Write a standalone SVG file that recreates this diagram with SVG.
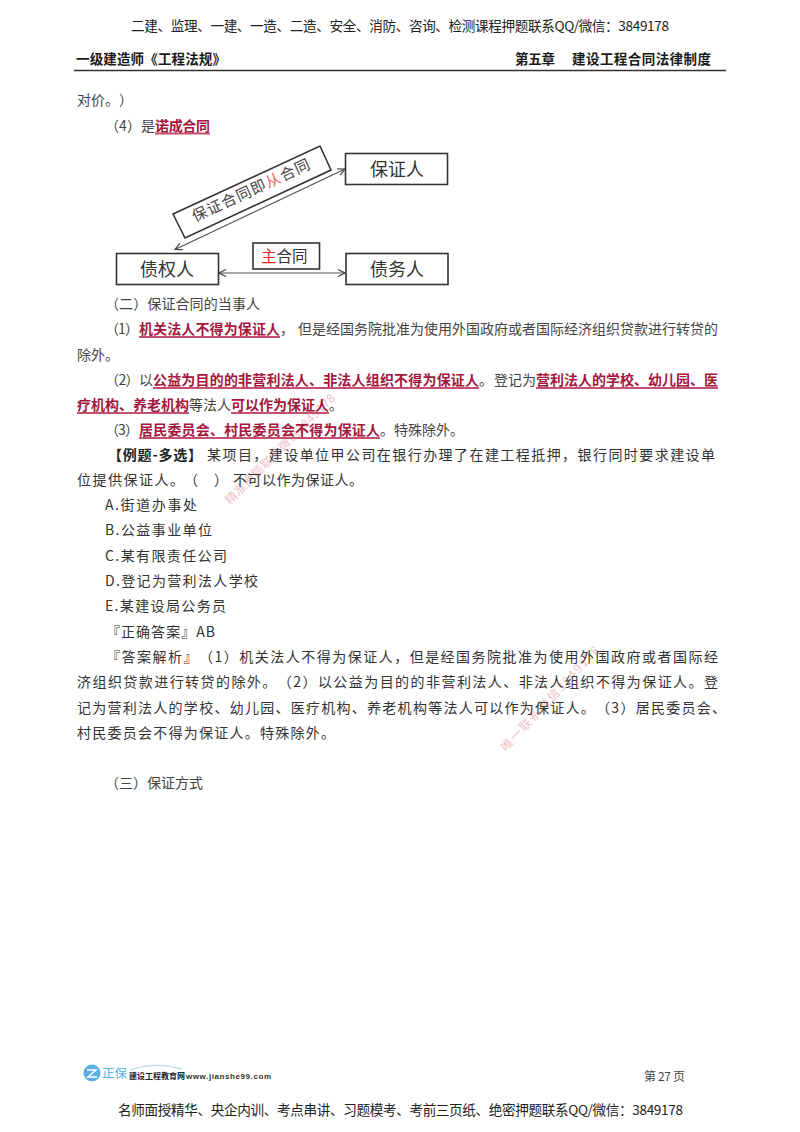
<svg xmlns="http://www.w3.org/2000/svg" width="800" height="1132" viewBox="0 0 800 1132">
<style>
text{font-family:"Noto Sans CJK SC","Noto Sans",sans-serif;font-size:14px;fill:#444;text-spacing-trim:space-all}
.h{fill:#222;font-size:13.6px}
.b{font-weight:700;fill:#1a1a1a;font-size:13.5px}
.r{font-weight:700;fill:#a5173c}
.u{stroke:#c2506e;stroke-width:2;fill:none}
.k{fill:#333}
.n{font-size:18px;fill:#333;text-anchor:middle}
.box{fill:#fff;stroke:#333;stroke-width:1.6}
.c{stroke:#555;stroke-width:1.2;fill:none;marker-start:url(#a);marker-end:url(#a)}
.w{font-size:12px;fill:#e8a9ac;opacity:.7}
</style>
<defs>
<marker id="a" markerWidth="9" markerHeight="8" refX="8" refY="4" orient="auto-start-reverse" markerUnits="userSpaceOnUse"><path d="M1 .5L8 4L1 7.5" fill="none" stroke="#444" stroke-width="1.2"/></marker>
</defs>
<rect width="800" height="1132" fill="#fff"/>

<g id="watermarks">
<text class="w" transform="translate(230,505) rotate(-45)" textLength="150">精准押题联系微信3849178</text>
<text class="w" transform="translate(506,752) rotate(-47)" textLength="138">唯一联系微信3849178</text>
</g>

<g id="page-header">
<text class="h" x="131" y="31" textLength="538">二建、监理、一建、一造、二造、安全、消防、咨询、检测课程押题联系QQ/微信：3849178</text>
<text class="b" x="76" y="64" textLength="150">一级建造师《工程法规》</text>
<text class="b" x="515" y="64" textLength="40">第五章</text>
<text class="b" x="572" y="64" textLength="139">建设工程合同法律制度</text>
<line x1="74" y1="70.5" x2="726" y2="70.5" stroke="#333" stroke-width="1.6"/>
</g>

<g id="intro-text">
<text x="77" y="105" textLength="56">对价。）</text>
<text x="105" y="131" textLength="50">（4）是</text>
<text class="r" x="155" y="131" textLength="55">诺成合同</text>
<line class="u" x1="155" y1="133.5" x2="210" y2="133.5"/>
</g>

<g id="connectors">
<line class="c" x1="175" y1="249.5" x2="345" y2="169"/>
<line class="c" x1="219" y1="273" x2="345" y2="273"/>
</g>

<g id="node-guarantor">
<rect class="box" x="345.5" y="153.5" width="102" height="31"/>
<text class="n" x="397" y="176">保证人</text>
</g>
<g id="node-creditor">
<rect class="box" x="116.5" y="253.5" width="102" height="31"/>
<text class="n" x="167" y="276">债权人</text>
</g>
<g id="node-debtor">
<rect class="box" x="346" y="253.5" width="102" height="31"/>
<text class="n" x="397" y="276">债务人</text>
</g>
<g id="node-accessory-contract">
<path class="box" d="M173 214L320 146L331 170L185 238Z"/>
<text transform="translate(195,222) rotate(-24.8)" style="font-size:15px;fill:#444" textLength="128">保证合同即<tspan style="fill:#e66">从</tspan>合同</text>
</g>
<g id="node-main-contract">
<rect class="box" x="253" y="243" width="66.500" height="26"/>
<text x="261" y="262" style="font-size:15.500px;fill:#333"><tspan style="fill:#e22">主</tspan>合同</text>
</g>

<g id="body-text">
<text x="105" y="309" textLength="155">（二）保证合同的当事人</text>

<text x="105" y="334" textLength="34">（1）</text>
<text class="r" x="139" y="334" textLength="141">机关法人不得为保证人</text>
<line class="u" x1="139" y1="337" x2="280" y2="337"/>
<text x="280" y="334">，</text>
<text x="298" y="334">但是经国务院批准为使用外国政府或者国际经济组织贷款进行转贷的</text>
<text x="77" y="360">除外。</text>

<text x="105" y="385" textLength="48">（2）以</text>
<text class="r" x="153" y="385" textLength="326">公益为目的的非营利法人、非法人组织不得为保证人</text>
<line class="u" x1="153" y1="388" x2="479" y2="388"/>
<text x="479" y="385">。</text>
<text x="494" y="385">登记为</text>
<text class="r" x="536" y="385" textLength="182">营利法人的学校、幼儿园、医</text>
<line class="u" x1="536" y1="388" x2="718" y2="388"/>

<text class="r" x="77" y="410" textLength="112">疗机构、养老机构</text>
<line class="u" x1="77" y1="413" x2="189" y2="413"/>
<text x="189" y="410">等法人</text>
<text class="r" x="231" y="410" textLength="98">可以作为保证人</text>
<line class="u" x1="231" y1="413" x2="329" y2="413"/>
<text x="329" y="410">。</text>

<text x="105" y="435" textLength="34">（3）</text>
<text class="r" x="139" y="435" textLength="241">居民委员会、村民委员会不得为保证人</text>
<line class="u" x1="139" y1="438" x2="380" y2="438"/>
<text x="380" y="435">。特殊除外。</text>
</g>

<g id="question">
<text class="k" x="108" y="460" style="font-weight:700;fill:#222" textLength="94">【例题-多选】</text>
<text class="k" x="207" y="460" textLength="508">某项目，建设单位甲公司在银行办理了在建工程抵押，银行同时要求建设单</text>
<text class="k" x="77" y="485" textLength="107">位提供保证人。</text>
<text class="k" x="184" y="485">（</text>
<text class="k" x="214" y="485">）</text>
<text class="k" x="233" y="485" textLength="130">不可以作为保证人。</text>
<text class="k" x="105" y="510" textLength="92">A.街道办事处</text>
<text class="k" x="105" y="535" textLength="107">B.公益事业单位</text>
<text class="k" x="105" y="561" textLength="122">C.某有限责任公司</text>
<text class="k" x="105" y="586" textLength="153">D.登记为营利法人学校</text>
<text class="k" x="105" y="611" textLength="121">E.某建设局公务员</text>
<text class="k" x="106" y="637" textLength="109">『正确答案』AB</text>
<text class="k" x="106" y="662" textLength="612">『答案解析』（1）机关法人不得为保证人，但是经国务院批准为使用外国政府或者国际经</text>
<text class="k" x="77" y="687" textLength="641">济组织贷款进行转贷的除外。（2）以公益为目的的非营利法人、非法人组织不得为保证人。登</text>
<text class="k" x="77" y="713" textLength="649">记为营利法人的学校、幼儿园、医疗机构、养老机构等法人可以作为保证人。（3）居民委员会、</text>
<text class="k" x="77" y="738" textLength="258">村民委员会不得为保证人。特殊除外。</text>
<text x="105" y="788" textLength="98">（三）保证方式</text>
</g>

<g id="page-footer">
<circle cx="92" cy="1073" r="8.500" fill="#5cb0e4"/>
<path d="M87 1070H96L88 1077H97" fill="none" stroke="#fff" stroke-width="1.500"/>
<path d="M130 1070Q155 1061 182 1069" fill="none" stroke="#a9d4ee" stroke-width="1"/>
<text x="102" y="1078" style="font-size:12.500px;fill:#5cb0e4">正保</text>
<text x="129" y="1079" style="font-size:8px;font-weight:700;fill:#222" textLength="56">建设工程教育网</text>
<text x="186" y="1079" style="font-family:'Liberation Sans',sans-serif;font-size:8px;font-weight:700;fill:#333" textLength="85">www.jianshe99.com</text>
<text x="644" y="1081" style="font-size:12px;fill:#444" textLength="41">第 27 页</text>
<text class="h" x="118" y="1115" textLength="565">名师面授精华、央企内训、考点串讲、习题模考、考前三页纸、绝密押题联系QQ/微信：3849178</text>
</g>
</svg>
